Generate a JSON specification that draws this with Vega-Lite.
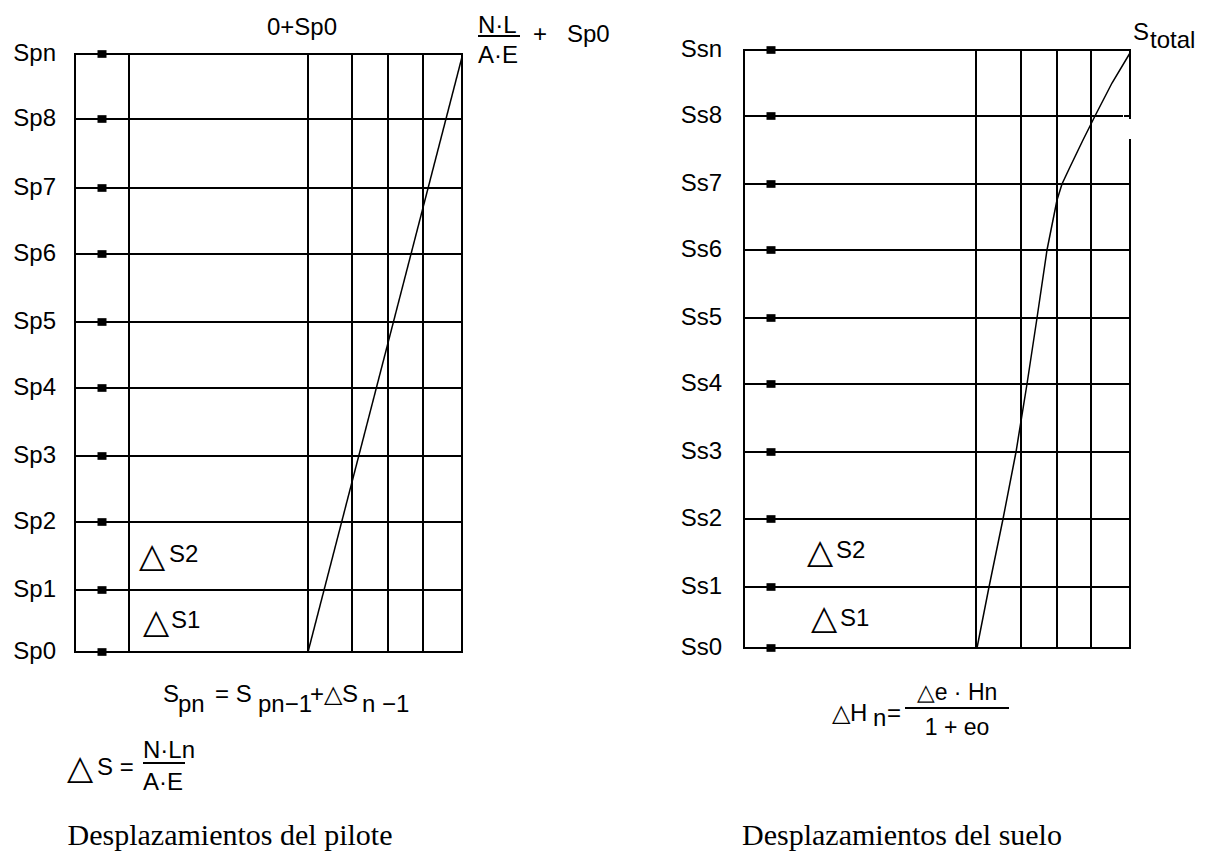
{
  "$schema": "https://vega.github.io/schema/vega-lite/v6.json",
  "autosize": {"type": "none"},
  "padding": {"left": 75, "top": 50, "right": 1135, "bottom": 802},
  "background": "white",
  "bounds": "flush",
  "spacing": 282,
  "config": {
    "view": {"stroke": null},
    "text": {"font": "Liberation Sans", "fontSize": 24, "color": "#000"}
  },
  "datasets": {
    "niveles_pilote": [
      {"nivel": "Sp0", "depth": 0}, {"nivel": "Sp1", "depth": 62}, {"nivel": "Sp2", "depth": 130},
      {"nivel": "Sp3", "depth": 196}, {"nivel": "Sp4", "depth": 264}, {"nivel": "Sp5", "depth": 330},
      {"nivel": "Sp6", "depth": 398}, {"nivel": "Sp7", "depth": 464}, {"nivel": "Sp8", "depth": 533},
      {"nivel": "Spn", "depth": 598}
    ],
    "verticales_pilote": [
      {"disp": 0}, {"disp": 54}, {"disp": 233}, {"disp": 277}, {"disp": 313}, {"disp": 348}, {"disp": 387}
    ],
    "asiento_pilote": [
      {"disp": 233, "depth": 0}, {"disp": 387, "depth": 595}
    ],
    "fracciones_pilote": [
      {"x0": 403, "x1": 445, "depth": 616},
      {"x0": 68, "x1": 110, "depth": -111}
    ],
    "textos_pilote": [
      {"texto": "0+Sp0", "disp": 192, "depth": 617},
      {"texto": "N·L", "disp": 403, "depth": 619},
      {"texto": "A·E", "disp": 403, "depth": 589},
      {"texto": "+", "disp": 458, "depth": 610},
      {"texto": "Sp0", "disp": 492, "depth": 610},
      {"texto": "S2", "disp": 94, "depth": 90},
      {"texto": "S1", "disp": 96, "depth": 24},
      {"texto": "S", "disp": 88, "depth": -50},
      {"texto": "pn", "disp": 103, "depth": -60},
      {"texto": "= S", "disp": 140, "depth": -50},
      {"texto": "pn−1", "disp": 183, "depth": -60},
      {"texto": "+△S", "disp": 235, "depth": -50},
      {"texto": "n −1", "disp": 287, "depth": -60},
      {"texto": "S =", "disp": 22, "depth": -123},
      {"texto": "N·Ln", "disp": 68, "depth": -106},
      {"texto": "A·E", "disp": 68, "depth": -138}
    ],
    "triangulos_pilote": [
      {"texto": "△", "disp": 64, "depth": 85},
      {"texto": "△", "disp": 68, "depth": 19},
      {"texto": "△", "disp": -8, "depth": -127}
    ],
    "titulo_pilote": [
      {"texto": "Desplazamientos del pilote", "disp": 155, "depth": -193}
    ],
    "niveles_suelo": [
      {"nivel": "Ss0", "depth": 0}, {"nivel": "Ss1", "depth": 61}, {"nivel": "Ss2", "depth": 129},
      {"nivel": "Ss3", "depth": 196}, {"nivel": "Ss4", "depth": 264}, {"nivel": "Ss5", "depth": 330},
      {"nivel": "Ss6", "depth": 398}, {"nivel": "Ss7", "depth": 464}, {"nivel": "Ss8", "depth": 532},
      {"nivel": "Ssn", "depth": 598}
    ],
    "horizontales_suelo": [
      {"depth": 0, "x0": 0, "x1": 386}, {"depth": 61, "x0": 0, "x1": 386}, {"depth": 129, "x0": 0, "x1": 386},
      {"depth": 196, "x0": 0, "x1": 386}, {"depth": 264, "x0": 0, "x1": 386}, {"depth": 330, "x0": 0, "x1": 386},
      {"depth": 398, "x0": 0, "x1": 386}, {"depth": 464, "x0": 0, "x1": 386},
      {"depth": 532, "x0": 0, "x1": 378}, {"depth": 532, "x0": 381, "x1": 386},
      {"depth": 598, "x0": 0, "x1": 386}
    ],
    "verticales_suelo": [
      {"disp": 0, "from": 0, "to": 598}, {"disp": 232, "from": 0, "to": 598},
      {"disp": 277, "from": 0, "to": 598}, {"disp": 313, "from": 0, "to": 598},
      {"disp": 347, "from": 0, "to": 598}, {"disp": 386, "from": 0, "to": 508},
      {"disp": 386, "from": 530, "to": 598}
    ],
    "asiento_suelo": [
      {"disp": 233, "depth": 0}, {"disp": 245, "depth": 61}, {"disp": 259, "depth": 129},
      {"disp": 272, "depth": 196}, {"disp": 283, "depth": 264}, {"disp": 293, "depth": 330},
      {"disp": 303, "depth": 398}, {"disp": 313, "depth": 448}, {"disp": 318, "depth": 464},
      {"disp": 326, "depth": 481}, {"disp": 339, "depth": 508}, {"disp": 351, "depth": 532},
      {"disp": 368, "depth": 565}, {"disp": 386, "depth": 595}
    ],
    "fracciones_suelo": [
      {"x0": 161, "x1": 265, "depth": -60}
    ],
    "textos_suelo": [
      {"texto": "S2", "disp": 92, "depth": 90},
      {"texto": "S1", "disp": 96, "depth": 22},
      {"texto": "S", "disp": 389, "depth": 608},
      {"texto": "total", "disp": 406, "depth": 600},
      {"texto": "△H", "disp": 88, "depth": -73},
      {"texto": "n", "disp": 129, "depth": -78},
      {"texto": "=", "disp": 143, "depth": -73}
    ],
    "triangulos_suelo": [
      {"texto": "△", "disp": 63, "depth": 85},
      {"texto": "△", "disp": 67, "depth": 19}
    ],
    "formula_suelo": [
      {"texto": "△e · Hn", "disp": 213, "depth": -52},
      {"texto": "1 + eo", "disp": 213, "depth": -87}
    ],
    "titulo_suelo": [
      {"texto": "Desplazamientos del suelo", "disp": 158, "depth": -197}
    ]
  },
  "hconcat": [
    {
      "width": 387,
      "height": 602,
      "layer": [
        {
          "data": {"name": "niveles_pilote"},
          "mark": {"type": "rule", "color": "#000", "strokeWidth": 2, "strokeCap": "square"},
          "encoding": {
            "x": {"datum": 0, "type": "quantitative", "scale": {"domain": [0, 387], "nice": false, "zero": false}, "axis": null},
            "x2": {"datum": 387},
            "y": {"field": "depth", "type": "quantitative", "scale": {"domain": [0, 602], "nice": false, "zero": false}, "axis": null}
          }
        },
        {
          "data": {"name": "verticales_pilote"},
          "mark": {"type": "rule", "color": "#000", "strokeWidth": 2, "strokeCap": "square"},
          "encoding": {
            "x": {"field": "disp", "type": "quantitative", "scale": {"domain": [0, 387], "nice": false, "zero": false}, "axis": null},
            "y": {"datum": 0, "type": "quantitative", "scale": {"domain": [0, 602], "nice": false, "zero": false}, "axis": null},
            "y2": {"datum": 598}
          }
        },
        {
          "data": {"name": "niveles_pilote"},
          "mark": {"type": "point", "shape": "M-1,-0.85H1V0.85H-1Z", "filled": true, "color": "#000", "size": 81, "opacity": 1},
          "encoding": {
            "x": {"datum": 27, "type": "quantitative", "scale": {"domain": [0, 387], "nice": false, "zero": false}, "axis": null},
            "y": {"field": "depth", "type": "quantitative", "scale": {"domain": [0, 602], "nice": false, "zero": false}, "axis": null}
          }
        },
        {
          "data": {"name": "niveles_pilote"},
          "mark": {"type": "text", "align": "right", "baseline": "middle", "font": "Liberation Sans", "fontSize": 24, "color": "#000"},
          "encoding": {
            "x": {"datum": -19, "type": "quantitative", "scale": {"domain": [0, 387], "nice": false, "zero": false}, "axis": null},
            "y": {"field": "depth", "type": "quantitative", "scale": {"domain": [0, 602], "nice": false, "zero": false}, "axis": null},
            "text": {"field": "nivel"}
          }
        },
        {
          "data": {"name": "asiento_pilote"},
          "mark": {"type": "line", "color": "#000", "strokeWidth": 1.5},
          "encoding": {
            "x": {"field": "disp", "type": "quantitative", "scale": {"domain": [0, 387], "nice": false, "zero": false}, "axis": null},
            "y": {"field": "depth", "type": "quantitative", "scale": {"domain": [0, 602], "nice": false, "zero": false}, "axis": null}
          }
        },
        {
          "data": {"name": "fracciones_pilote"},
          "mark": {"type": "rule", "color": "#000", "strokeWidth": 2},
          "encoding": {
            "x": {"field": "x0", "type": "quantitative", "scale": {"domain": [0, 387], "nice": false, "zero": false}, "axis": null},
            "x2": {"field": "x1"},
            "y": {"field": "depth", "type": "quantitative", "scale": {"domain": [0, 602], "nice": false, "zero": false}, "axis": null}
          }
        },
        {
          "data": {"name": "textos_pilote"},
          "mark": {"type": "text", "align": "left", "baseline": "alphabetic", "font": "Liberation Sans", "fontSize": 24, "color": "#000"},
          "encoding": {
            "x": {"field": "disp", "type": "quantitative", "scale": {"domain": [0, 387], "nice": false, "zero": false}, "axis": null},
            "y": {"field": "depth", "type": "quantitative", "scale": {"domain": [0, 602], "nice": false, "zero": false}, "axis": null},
            "text": {"field": "texto"}
          }
        },
        {
          "data": {"name": "triangulos_pilote"},
          "mark": {"type": "text", "align": "left", "baseline": "alphabetic", "font": "DejaVu Sans", "fontSize": 34, "color": "#000"},
          "encoding": {
            "x": {"field": "disp", "type": "quantitative", "scale": {"domain": [0, 387], "nice": false, "zero": false}, "axis": null},
            "y": {"field": "depth", "type": "quantitative", "scale": {"domain": [0, 602], "nice": false, "zero": false}, "axis": null},
            "text": {"field": "texto"}
          }
        },
        {
          "data": {"name": "titulo_pilote"},
          "mark": {"type": "text", "align": "center", "baseline": "alphabetic", "font": "Liberation Serif", "fontSize": 30, "color": "#000"},
          "encoding": {
            "x": {"field": "disp", "type": "quantitative", "scale": {"domain": [0, 387], "nice": false, "zero": false}, "axis": null},
            "y": {"field": "depth", "type": "quantitative", "scale": {"domain": [0, 602], "nice": false, "zero": false}, "axis": null},
            "text": {"field": "texto"}
          }
        }
      ]
    },
    {
      "width": 387,
      "height": 602,
      "layer": [
        {
          "data": {"name": "horizontales_suelo"},
          "mark": {"type": "rule", "color": "#000", "strokeWidth": 2, "strokeCap": "square"},
          "encoding": {
            "x": {"field": "x0", "type": "quantitative", "scale": {"domain": [0, 387], "nice": false, "zero": false}, "axis": null},
            "x2": {"field": "x1"},
            "y": {"field": "depth", "type": "quantitative", "scale": {"domain": [-4, 598], "nice": false, "zero": false}, "axis": null}
          }
        },
        {
          "data": {"name": "verticales_suelo"},
          "mark": {"type": "rule", "color": "#000", "strokeWidth": 2, "strokeCap": "square"},
          "encoding": {
            "x": {"field": "disp", "type": "quantitative", "scale": {"domain": [0, 387], "nice": false, "zero": false}, "axis": null},
            "y": {"field": "from", "type": "quantitative", "scale": {"domain": [-4, 598], "nice": false, "zero": false}, "axis": null},
            "y2": {"field": "to"}
          }
        },
        {
          "data": {"name": "niveles_suelo"},
          "mark": {"type": "point", "shape": "M-1,-0.85H1V0.85H-1Z", "filled": true, "color": "#000", "size": 81, "opacity": 1},
          "encoding": {
            "x": {"datum": 27, "type": "quantitative", "scale": {"domain": [0, 387], "nice": false, "zero": false}, "axis": null},
            "y": {"field": "depth", "type": "quantitative", "scale": {"domain": [-4, 598], "nice": false, "zero": false}, "axis": null}
          }
        },
        {
          "data": {"name": "niveles_suelo"},
          "mark": {"type": "text", "align": "right", "baseline": "middle", "font": "Liberation Sans", "fontSize": 24, "color": "#000"},
          "encoding": {
            "x": {"datum": -22, "type": "quantitative", "scale": {"domain": [0, 387], "nice": false, "zero": false}, "axis": null},
            "y": {"field": "depth", "type": "quantitative", "scale": {"domain": [-4, 598], "nice": false, "zero": false}, "axis": null},
            "text": {"field": "nivel"}
          }
        },
        {
          "data": {"name": "asiento_suelo"},
          "mark": {"type": "line", "color": "#000", "strokeWidth": 1.5},
          "encoding": {
            "x": {"field": "disp", "type": "quantitative", "scale": {"domain": [0, 387], "nice": false, "zero": false}, "axis": null},
            "y": {"field": "depth", "type": "quantitative", "scale": {"domain": [-4, 598], "nice": false, "zero": false}, "axis": null},
            "order": {"field": "depth", "type": "quantitative"}
          }
        },
        {
          "data": {"name": "fracciones_suelo"},
          "mark": {"type": "rule", "color": "#000", "strokeWidth": 2},
          "encoding": {
            "x": {"field": "x0", "type": "quantitative", "scale": {"domain": [0, 387], "nice": false, "zero": false}, "axis": null},
            "x2": {"field": "x1"},
            "y": {"field": "depth", "type": "quantitative", "scale": {"domain": [-4, 598], "nice": false, "zero": false}, "axis": null}
          }
        },
        {
          "data": {"name": "textos_suelo"},
          "mark": {"type": "text", "align": "left", "baseline": "alphabetic", "font": "Liberation Sans", "fontSize": 24, "color": "#000"},
          "encoding": {
            "x": {"field": "disp", "type": "quantitative", "scale": {"domain": [0, 387], "nice": false, "zero": false}, "axis": null},
            "y": {"field": "depth", "type": "quantitative", "scale": {"domain": [-4, 598], "nice": false, "zero": false}, "axis": null},
            "text": {"field": "texto"}
          }
        },
        {
          "data": {"name": "triangulos_suelo"},
          "mark": {"type": "text", "align": "left", "baseline": "alphabetic", "font": "DejaVu Sans", "fontSize": 34, "color": "#000"},
          "encoding": {
            "x": {"field": "disp", "type": "quantitative", "scale": {"domain": [0, 387], "nice": false, "zero": false}, "axis": null},
            "y": {"field": "depth", "type": "quantitative", "scale": {"domain": [-4, 598], "nice": false, "zero": false}, "axis": null},
            "text": {"field": "texto"}
          }
        },
        {
          "data": {"name": "formula_suelo"},
          "mark": {"type": "text", "align": "center", "baseline": "alphabetic", "font": "Liberation Sans", "fontSize": 23, "color": "#000"},
          "encoding": {
            "x": {"field": "disp", "type": "quantitative", "scale": {"domain": [0, 387], "nice": false, "zero": false}, "axis": null},
            "y": {"field": "depth", "type": "quantitative", "scale": {"domain": [-4, 598], "nice": false, "zero": false}, "axis": null},
            "text": {"field": "texto"}
          }
        },
        {
          "data": {"name": "titulo_suelo"},
          "mark": {"type": "text", "align": "center", "baseline": "alphabetic", "font": "Liberation Serif", "fontSize": 30, "color": "#000"},
          "encoding": {
            "x": {"field": "disp", "type": "quantitative", "scale": {"domain": [0, 387], "nice": false, "zero": false}, "axis": null},
            "y": {"field": "depth", "type": "quantitative", "scale": {"domain": [-4, 598], "nice": false, "zero": false}, "axis": null},
            "text": {"field": "texto"}
          }
        }
      ]
    }
  ]
}
